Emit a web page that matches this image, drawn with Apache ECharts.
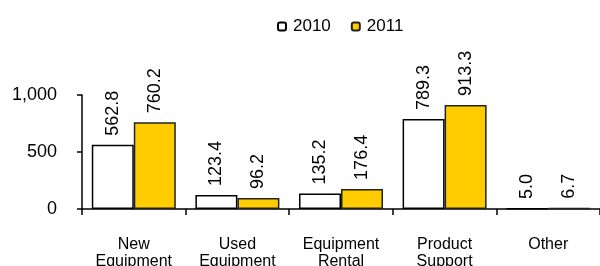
<!DOCTYPE html>
<html>
<head>
<meta charset="utf-8">
<title>Revenue by segment</title>
<style>
* { margin: 0; padding: 0; }
html, body { width: 600px; height: 266px; background: #fff; }
#box { width: 600px; height: 266px; }
</style>
</head>
<body>
<div id="box"></div>
<script src="https://cdn.jsdelivr.net/npm/echarts@6/dist/echarts.min.js"></script>
<script>
var categories = ['New\nEquipment', 'Used\nEquipment', 'Equipment\nRental', 'Product\nSupport', 'Other']
var values2010 = [562.8, 123.4, 135.2, 789.3, 5.0]
var values2011 = [760.2, 96.2, 176.4, 913.3, 6.7]
var seriesNames = ['2010', '2011']

var font = 'Liberation Sans, Arial, sans-serif'

var labelStyle = {
	show: true,
	position: 'top',
	rotate: 90,
	align: 'left',
	verticalAlign: 'middle',
	distance: 9,
	color: '#000',
	fontFamily: font,
	fontSize: 18,
	formatter: function(p) { return p.value.toFixed(1) }
}

var myChart = echarts.init(document.getElementById('box'))
var option = {
	animation: false,
	legend: {
		data: seriesNames,
		top: 13,
		left: 272,
		itemWidth: 8,
		itemHeight: 8,
		itemGap: 20,
		textStyle: { fontFamily: font, fontSize: 17, color: '#000', padding: [0, 0, 0, 2] }
	},
	grid: { left: 82, right: 0, top: 95, bottom: 57, outerBoundsMode: 'none', containLabel: false },
	xAxis: {
		type: 'category',
		data: categories,
		axisLine: { lineStyle: { color: '#000', width: 1.5 } },
		axisTick: { show: true, length: 6, inside: false, lineStyle: { color: '#000', width: 1.5 } },
		axisLabel: { fontFamily: font, fontSize: 16, color: '#000', margin: 27, lineHeight: 17 }
	},
	yAxis: {
		type: 'value',
		min: 0,
		max: 1000,
		interval: 500,
		splitLine: { show: false },
		axisLine: { show: true, lineStyle: { color: '#000', width: 1.5 } },
		axisTick: { show: true, length: 5, lineStyle: { color: '#000', width: 1.5 } },
		axisLabel: {
			fontFamily: font, fontSize: 18, color: '#000', margin: 25,
			formatter: function(v) { return v.toLocaleString('en-US') }
		}
	},
	series: [{
		name: seriesNames[0],
		type: 'bar',
		data: values2010,
		barWidth: 42,
		barGap: '0%',
		itemStyle: { color: '#ffffff', borderColor: '#000', borderWidth: 1.5 },
		label: labelStyle
	}, {
		name: seriesNames[1],
		type: 'bar',
		data: values2011,
		barWidth: 42,
		barGap: '0%',
		itemStyle: { color: '#ffcc00', borderColor: '#222', borderWidth: 1.5 },
		label: labelStyle
	}]
}
myChart.setOption(option)
</script>
</body>
</html>
